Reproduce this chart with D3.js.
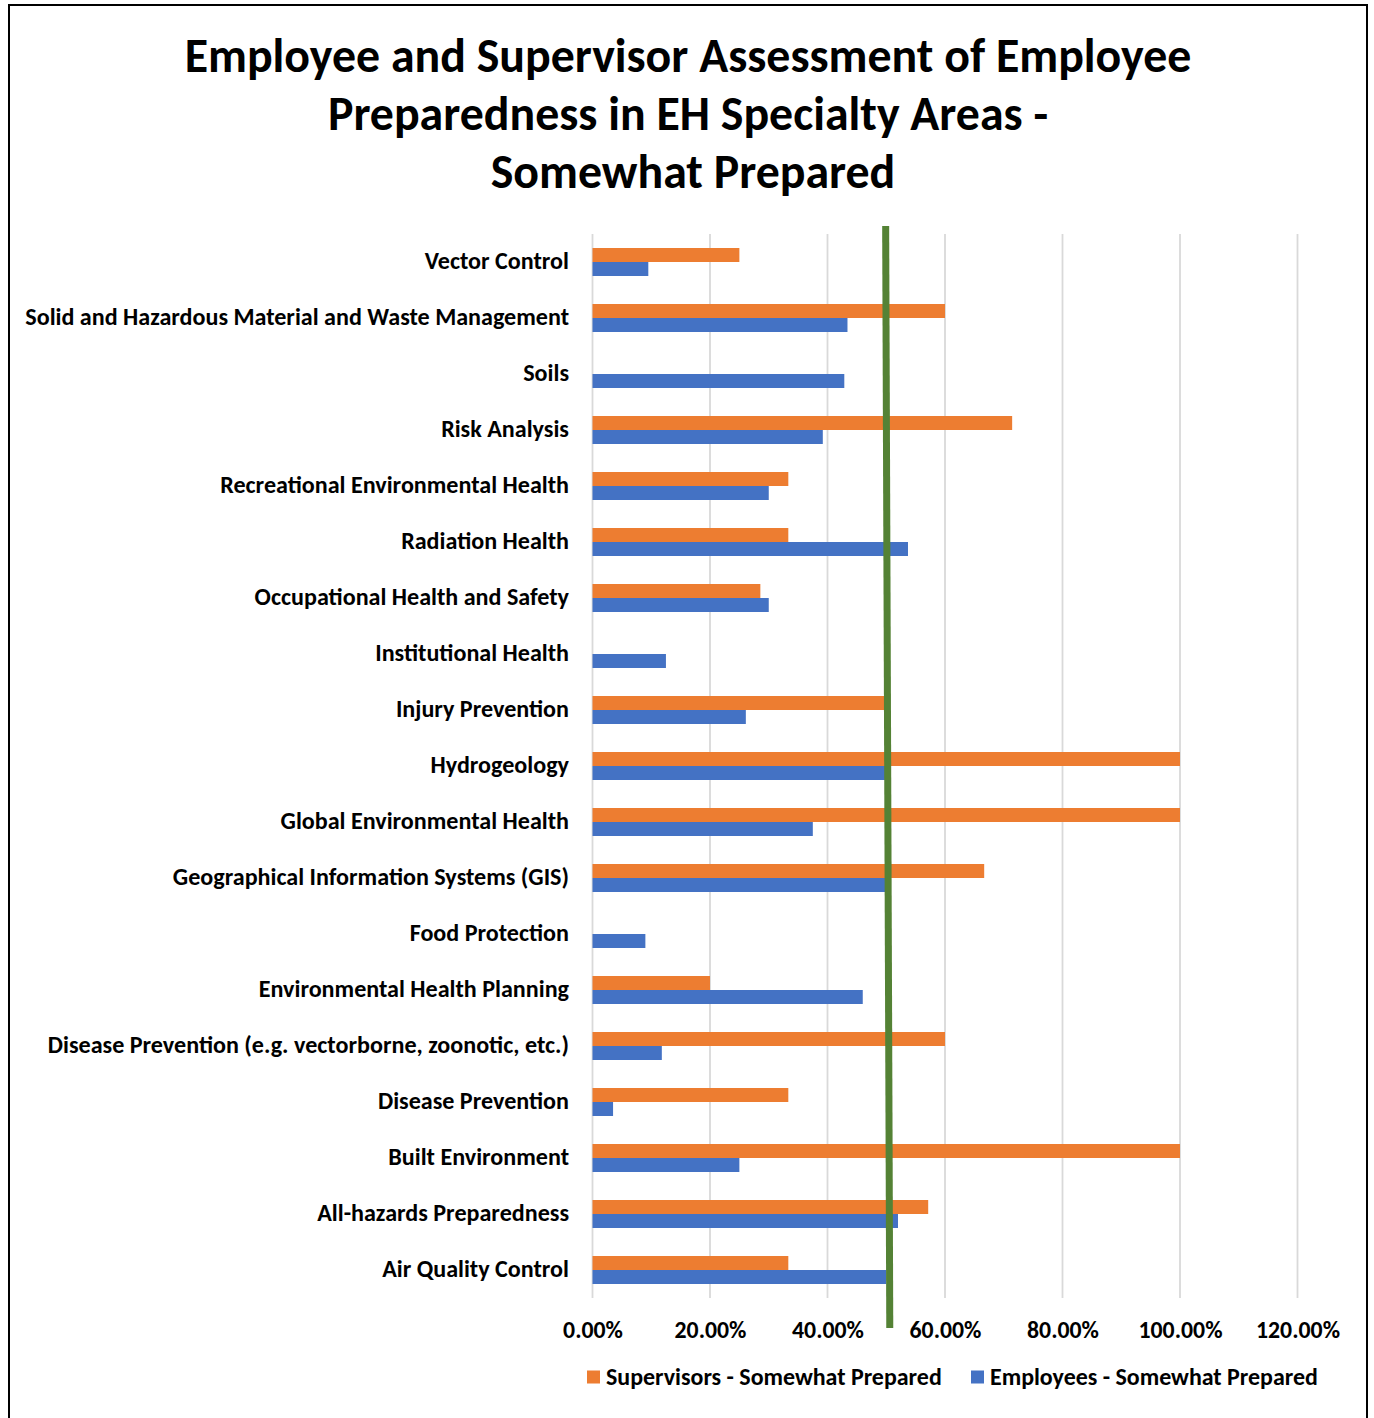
<!DOCTYPE html>
<html>
<head>
<meta charset="utf-8">
<script src="https://cdn.jsdelivr.net/npm/d3@7"></script>
<style>
  html, body { margin: 0; padding: 0; background: #fff; }
  svg { display: block; }
  text { font-family: Carlito, Calibri, Lato, "Open Sans", sans-serif; font-weight: bold; fill: #000; }
</style>
</head>
<body>
<svg id="chart" width="1374" height="1418"></svg>
<script>
// Specialty areas, top to bottom
const categories = [
  "Vector Control",
  "Solid and Hazardous Material and Waste Management",
  "Soils",
  "Risk Analysis",
  "Recreational Environmental Health",
  "Radiation Health",
  "Occupational Health and Safety",
  "Institutional Health",
  "Injury Prevention",
  "Hydrogeology",
  "Global Environmental Health",
  "Geographical Information Systems (GIS)",
  "Food Protection",
  "Environmental Health Planning",
  "Disease Prevention (e.g. vectorborne, zoonotic, etc.)",
  "Disease Prevention",
  "Built Environment",
  "All-hazards Preparedness",
  "Air Quality Control"
];

// Share answering "somewhat prepared"
const supervisors = [0.25, 0.60, 0, 0.7143, 0.3333, 0.3333, 0.2857, 0, 0.50, 1.00, 1.00, 0.6667, 0, 0.20, 0.60, 0.3333, 1.00, 0.5714, 0.3333];
const employees   = [0.095, 0.434, 0.4286, 0.392, 0.30, 0.537, 0.30, 0.125, 0.261, 0.50, 0.375, 0.50, 0.09, 0.46, 0.118, 0.035, 0.25, 0.52, 0.50];

const seriesNames = ["Supervisors - Somewhat Prepared", "Employees - Somewhat Prepared"];
const seriesColors = ["#ED7D31", "#4472C4"];
const tickValues = [0, 0.2, 0.4, 0.6, 0.8, 1.0, 1.2];
const titleLines = [
  "Employee and Supervisor Assessment of Employee",
  "Preparedness in EH Specialty Areas -",
  "Somewhat Prepared"
];
// 50% benchmark line (drawn slightly tilted, as a hand-placed marker)
const benchmarkTop = 0.499;
const benchmarkBottom = 0.506;

const svg = d3.select("#chart");

// outer frame
svg.append("path")
  .attr("d", "M9,1418 V5 H1367 V1418")
  .attr("fill", "none").attr("stroke", "#000").attr("stroke-width", 2);

// font sizing helper: scale so a sample string reaches a given width
function fitSize(sample, width, base) {
  const t = svg.append("text").style("font-size", base + "px").text(sample);
  const w = t.node().getComputedTextLength();
  t.remove();
  return base * width / w;
}

const titleSize = fitSize(titleLines[0], 1007, 40);
const catSize = fitSize(categories[1], 544, 20);
const tickSize = fitSize("120.00%", 84, 19);
const legendSize = fitSize(seriesNames[1], 328, 20);

// title (last line carries a trailing space, so it sits a little right)
const titleX = [688, 688, 693];
svg.append("g").selectAll("text").data(titleLines).join("text")
  .attr("x", (d, i) => titleX[i]).attr("y", (d, i) => 55.5 + i * 58)
  .attr("text-anchor", "middle").attr("dominant-baseline", "central")
  .style("font-size", titleSize + "px")
  .text(d => d);

// scales
const x = d3.scaleLinear().domain([0, 1.2]).range([592.5, 1297.5]);
const y = d3.scaleBand().domain(categories).range([234, 1298]).padding(0);
const ySub = d3.scaleBand().domain(seriesNames).range([0, y.bandwidth()]).paddingInner(0).paddingOuter(1);

// gridlines
svg.append("g").selectAll("line").data(tickValues).join("line")
  .attr("x1", d => x(d)).attr("x2", d => x(d))
  .attr("y1", 234).attr("y2", 1298)
  .attr("stroke", "#d9d9d9").attr("stroke-width", 1.8);

// x axis labels
const xAxis = d3.axisBottom(x).tickValues(tickValues).tickFormat(d3.format(".2%")).tickSize(0).tickPadding(0);
const gx = svg.append("g").attr("transform", "translate(0,1329)").call(xAxis);
gx.select(".domain").remove();
gx.selectAll("text")
  .attr("y", 0).attr("dy", null)
  .attr("dominant-baseline", "central")
  .style("font-size", tickSize + "px")
  .attr("font-family", null);

// category labels
const yAxis = d3.axisLeft(y).tickSize(0).tickPadding(0);
const gy = svg.append("g").attr("transform", "translate(569,-1.5)").call(yAxis);
gy.select(".domain").remove();
gy.selectAll("text")
  .attr("x", 0).attr("dy", null)
  .attr("dominant-baseline", "central")
  .style("font-size", catSize + "px")
  .attr("font-family", null);

// bars
const rows = categories.map((c, i) => ({ cat: c, vals: [supervisors[i], employees[i]] }));
const groups = svg.append("g").selectAll("g").data(rows).join("g")
  .attr("transform", d => `translate(0,${y(d.cat)})`);
groups.selectAll("rect")
  .data(d => d.vals.map((v, k) => ({ v, k })).filter(e => e.v > 0))
  .join("rect")
  .attr("x", x(0))
  .attr("y", d => ySub(seriesNames[d.k]))
  .attr("width", d => x(d.v) - x(0))
  .attr("height", ySub.bandwidth())
  .attr("fill", d => seriesColors[d.k]);

// benchmark line
svg.append("line")
  .attr("x1", x(benchmarkTop)).attr("y1", 226)
  .attr("x2", x(benchmarkBottom)).attr("y2", 1328)
  .attr("stroke", "#548235").attr("stroke-width", 7);

// legend
const legendPos = [587, 971];
const lg = svg.append("g").selectAll("g").data(seriesNames).join("g")
  .attr("transform", (d, i) => `translate(${legendPos[i]},1377)`);
lg.append("rect").attr("x", 0).attr("y", -6.5).attr("width", 13).attr("height", 13)
  .attr("fill", (d, i) => seriesColors[i]);
lg.append("text").attr("x", 19).attr("y", -1).attr("dominant-baseline", "central")
  .style("font-size", legendSize + "px").text(d => d);
</script>
</body>
</html>
